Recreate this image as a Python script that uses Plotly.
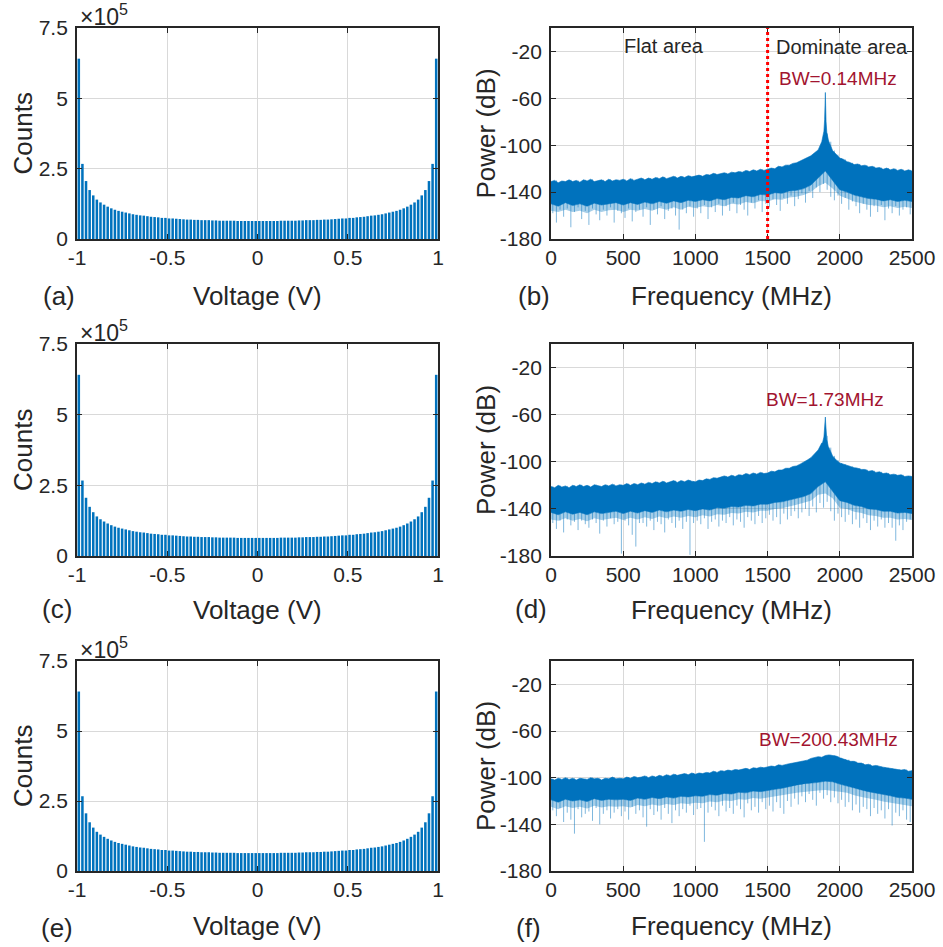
import numpy as np
import plotly.graph_objects as go

# ---------------- histogram data (counts, in thousands) ----------------
bin_centers = np.round(np.arange(-0.99, 1.0, 0.02), 2)
counts_k = [
    641, 267, 206, 174, 155, 140, 130, 122, 115, 109,
    104, 100, 97, 94, 91, 88, 86, 84, 83, 81,
    79, 78, 77, 75, 75, 73, 73, 72, 71, 70,
    69, 69, 68, 68, 67, 67, 67, 66, 66, 65,
    65, 65, 65, 65, 64, 64, 64, 64, 64, 64,
    64, 64, 64, 64, 64, 64, 65, 65, 65, 65,
    65, 66, 66, 67, 67, 67, 68, 68, 69, 69,
    70, 71, 72, 73, 73, 75, 75, 77, 78, 79,
    81, 83, 84, 86, 88, 91, 94, 97, 100, 104,
    109, 115, 122, 130, 140, 155, 174, 206, 267, 641,
]
hist_counts = np.array(counts_k) * 1000

# ---------------- spectra: band edges (dB) ----------------
freq_top = np.arange(0, 2501, 25)      # upper edge of the noise band
freq_bot = np.arange(0, 2501, 50)      # lower edges of the dense band / fringe
spike_f = np.arange(12.5, 2500, 25)    # downward noise spikes

b_top = [
    -131, -130, -132, -130.5, -131, -129.5, -131, -130, -131.5, -129.5,
    -130.5, -129, -131, -130, -129.5, -131, -129, -130.5, -129.5, -130,
    -129, -130.5, -128.5, -130, -129, -128, -129.5, -128, -129, -127.5,
    -128.5, -127, -128.5, -127.5, -126.5, -128, -126.5, -127.5, -126, -127,
    -126.5, -125.5, -126.5, -125, -125.5, -124, -125, -124.5, -123.5, -124.5,
    -123, -123.5, -122.5, -123, -121.5, -122.5, -121, -122, -120.5, -121.5,
    -120.5, -119.5, -120, -118, -118.5, -117, -117, -115.5, -115, -113.5,
    -112.5, -111, -109, -106.5, -104, -97, -90, -97, -104.5, -108,
    -111, -112, -114, -115, -116.5, -116, -117.5, -117, -118.5, -118,
    -119.5, -119, -120.5, -119.5, -121, -120, -121.5, -120.5, -122, -121,
    -122,
]
b_bot = [
    -150, -152, -149, -151.5, -150, -152, -149.5, -151, -150, -149,
    -151, -149, -150.5, -148.5, -150, -148, -149.5, -147.5, -149, -147,
    -148, -146.5, -147.5, -145.5, -146.5, -144.5, -145, -143, -144, -142,
    -142.5, -140.5, -141, -139, -138.5, -137, -134, -128, -122, -130,
    -138, -140, -142.5, -144, -145.5, -146, -147.5, -146.5, -148, -147,
    -148,
]
b_fringe = [
    -156, -157, -155, -157, -156, -158, -155, -157, -155.5, -155,
    -157, -155, -156, -154.5, -156, -153.5, -155, -153, -155, -152.5,
    -153.5, -152, -153, -151, -152, -150, -150.5, -148.5, -149.5, -147.5,
    -148, -146, -146.5, -144.5, -144, -142.5, -140, -135, -132, -137,
    -143, -145.5, -148, -149.5, -151, -151.5, -153, -152, -153.5, -152.5,
    -153.5,
]
b_spike = [
    -158, -166, -155, -161, -154, -170, -157, -153, -163, -156,
    -168, -154, -159, -164, -155, -160, -153, -166, -156, -158,
    -162, -154, -165, -157, -155, -161, -153, -168, -155, -159,
    -152, -163, -156, -154, -160, -172, -155, -158, -152, -161,
    -154, -158, -151, -163, -153, -157, -150, -160, -152, -156,
    -149, -158, -151, -155, -160, -149, -154, -147, -157, -150,
    -153, -146, -151, -156, -145, -150, -143, -152, -146, -141,
    -149, -139, -145, -136, -140, -133, -138, -144, -147, -143,
    -150, -145, -155, -148, -152, -158, -150, -155, -161, -152,
    -157, -151, -164, -154, -158, -152, -160, -155, -153, -159,
]
b_peak_f = [1880, 1890, 1895, 1898, 1900, 1902, 1905, 1910, 1920]
b_peak = [-94, -88, -78, -65, -55, -66, -80, -89, -95]

d_top = [
    -121, -122, -120, -121.5, -120.5, -122, -120, -121, -119.5, -121,
    -120, -121.5, -119.5, -120.5, -121, -119.5, -120.5, -119, -120.5, -119.5,
    -120, -118.5, -120, -118.5, -119.5, -118, -119, -117.5, -118.5, -117,
    -118, -116.5, -118, -117, -116, -117.5, -116, -117, -115.5, -116.5,
    -117, -115.5, -116, -114.5, -115, -113.5, -114, -113, -112, -113,
    -111.5, -112.5, -111, -111.5, -110, -111, -109.5, -110.5, -109, -110,
    -109.5, -108, -108.5, -107, -107, -105.5, -105.5, -104, -103.5, -102,
    -100.5, -98.5, -96.5, -93.5, -90, -84, -78, -88, -95, -98.5,
    -101, -102, -103.5, -104, -105, -105.5, -106.5, -106.5, -108, -107.5,
    -109, -108.5, -110, -109.5, -111, -110.5, -111.5, -111, -112.5, -112,
    -112.5,
]
d_bot = [
    -143, -145, -142.5, -144.5, -143, -145, -142.5, -144, -143, -142,
    -144, -142, -143.5, -141.5, -143, -141, -142.5, -141, -142, -140.5,
    -141.5, -140, -141, -139, -139.5, -138, -138.5, -137, -137.5, -136,
    -136, -134.5, -134, -132.5, -131, -129.5, -127, -121, -117, -125,
    -133, -134.5, -137, -138, -140, -140.5, -142, -142, -143.5, -143,
    -144,
]
d_fringe = [
    -149, -150, -148, -150, -148.5, -150.5, -148, -149.5, -148.5, -147.5,
    -149.5, -147.5, -149, -147, -148.5, -146.5, -148, -146.5, -147.5, -146,
    -147, -145.5, -146.5, -144.5, -145, -143.5, -144, -142.5, -143, -141.5,
    -141.5, -140, -139.5, -138, -136.5, -135, -133, -128, -127, -131,
    -139, -140, -142.5, -143.5, -145.5, -146, -147.5, -147.5, -149, -148.5,
    -149.5,
]
d_spike = [
    -152, -157, -150, -160, -149, -154, -151, -158, -150, -153,
    -156, -149, -152, -161, -150, -155, -148, -153, -151, -178,
    -150, -154, -162, -172, -152, -152, -155, -150, -158, -151,
    -153, -160, -149, -152, -156, -150, -157, -151, -179, -152,
    -150, -153, -148, -157, -151, -149, -155, -150, -152, -147,
    -154, -149, -151, -156, -147, -150, -153, -146, -152, -148,
    -145, -150, -147, -153, -144, -149, -146, -142, -148, -143,
    -140, -146, -138, -143, -135, -139, -134, -142, -150, -144,
    -147, -151, -145, -153, -149, -156, -148, -152, -158, -150,
    -155, -149, -156, -152, -156, -167, -154, -158, -151, -149,
]
d_peak_f = [1880, 1890, 1895, 1898, 1900, 1902, 1905, 1910, 1920]
d_peak = [-84, -79, -72, -66, -62, -67, -74, -81, -87]

f_top = [
    -101, -102, -100.5, -101.5, -100, -101.5, -100.5, -102, -100.5, -101,
    -101.5, -100, -101, -100.5, -102, -100.5, -101, -99.5, -101, -100.5,
    -101, -99.5, -100.5, -99, -100, -99.5, -98.5, -100, -98.5, -99.5,
    -98, -99, -97.5, -98.5, -97, -98, -97.5, -96.5, -97.5, -96,
    -97, -96, -96.5, -95.5, -96, -94.5, -95.5, -94, -94.5, -93.5,
    -94, -93, -93.5, -92.5, -92, -93, -91.5, -92, -91, -91.5,
    -91, -90, -90.5, -89, -89.5, -88.5, -88, -87.5, -87, -86,
    -85.5, -85, -83.5, -83, -82, -82.5, -81, -80.5, -81, -81.5,
    -83, -84, -84.5, -86, -86, -87.5, -87.5, -89, -88.5, -90,
    -89.5, -90.5, -91, -91.5, -92, -92.5, -93, -93.5, -93, -94.5,
    -94,
]
f_bot = [
    -119, -121, -118.5, -120, -119, -120.5, -118, -119.5, -118.5, -119,
    -118.5, -119.5, -117.5, -118.5, -117, -118, -116.5, -117.5, -116, -116.5,
    -115.5, -116, -114.5, -115, -113.5, -114, -112.5, -113, -111.5, -112,
    -111, -110, -109, -108, -106.5, -105.5, -104.5, -104, -103, -103.5,
    -105.5, -107, -109, -110.5, -112, -113, -114.5, -115.5, -117, -117.5,
    -118.5,
]
f_fringe = [
    -125, -127, -124.5, -126, -125, -126.5, -124, -125.5, -124.5, -125,
    -124.5, -125.5, -123.5, -124.5, -123, -124, -122.5, -123.5, -122, -122.5,
    -121.5, -122, -120.5, -121, -119.5, -120, -118.5, -119, -117.5, -118,
    -117, -116, -115, -114, -113, -112, -111.5, -111, -110.5, -111,
    -112, -113, -115, -116.5, -118, -119, -120.5, -121.5, -123, -123.5,
    -124.5,
]
f_spike = [
    -128, -133, -126, -138, -130, -136, -148, -127, -134, -131,
    -129, -137, -126, -140, -131, -128, -135, -130, -127, -133,
    -129, -136, -125, -131, -128, -134, -142, -127, -132, -129,
    -136, -126, -131, -139, -128, -133, -127, -130, -124, -132,
    -127, -126, -155, -130, -125, -128, -133, -124, -129, -126,
    -131, -124, -127, -134, -122, -128, -125, -130, -121, -127,
    -124, -129, -121, -126, -131, -120, -125, -118, -123, -116,
    -121, -114, -119, -124, -113, -118, -115, -121, -117, -122,
    -119, -125, -121, -128, -123, -130, -125, -127, -133, -126,
    -131, -128, -135, -127, -141, -130, -133, -128, -136, -138,
]

volt_ticks = [-1, -0.5, 0, 0.5, 1]
volt_labels = ["-1", "-0.5", "0", "0.5", "1"]
count_ticks = [0, 250000, 500000, 750000]
count_labels = ["0", "2.5", "5", "7.5"]
freq_ticks = [0, 500, 1000, 1500, 2000, 2500]
freq_labels = ["0", "500", "1000", "1500", "2000", "2500"]
pow_ticks = [-180, -140, -100, -60, -20]
pow_labels = ["-180", "-140", "-100", "-60", "-20"]
bw_labels = ["BW=0.14MHz", "BW=1.73MHz", "BW=200.43MHz"]

# ---------------- figure ----------------
W, H = 943, 947
BLUE = "#0072BD"
FONT = "Liberation Sans, Arial, sans-serif"
fig = go.Figure()


def px(x):
    return x / W


def py(y):
    return 1 - y / H


col_x = [(77, 438), (551, 912)]
row_y = [(28, 239), (344, 556), (661, 871)]

axis_common = dict(
    showline=True, linecolor="#262626", linewidth=1.8, mirror="ticks",
    ticks="inside", ticklen=5, tickwidth=1.2, tickcolor="#262626",
    showgrid=True, gridcolor="#d9d9d9", gridwidth=1, zeroline=False,
    automargin=False,
    tickfont=dict(family=FONT, size=21, color="#262626"),
)

layout_axes = {}
for r in range(3):
    for c in range(2):
        n = r * 2 + c + 1
        xs = "" if n == 1 else str(n)
        x0, x1 = col_x[c]
        y0, y1 = row_y[r]
        xa = dict(axis_common, domain=[px(x0), px(x1)], anchor="y" + xs,
                  ticklabelstandoff=-1)
        ya = dict(axis_common, domain=[py(y1), py(y0)], anchor="x" + xs,
                  ticklabelstandoff=3)
        if c == 0:
            xa.update(range=[-1, 1], tickvals=volt_ticks, ticktext=volt_labels)
            ya.update(range=[0, 750000], tickvals=count_ticks, ticktext=count_labels)
        else:
            xa.update(range=[0, 2500], tickvals=freq_ticks, ticktext=freq_labels)
            ya.update(range=[-180, 0], tickvals=pow_ticks, ticktext=pow_labels)
        layout_axes["xaxis" + xs] = xa
        layout_axes["yaxis" + xs] = ya

# histograms (a), (c), (e)
for n in (1, 3, 5):
    xs = "" if n == 1 else str(n)
    fig.add_trace(go.Bar(x=bin_centers, y=hist_counts, marker_color=BLUE,
                         marker_line_width=0, xaxis="x" + xs, yaxis="y" + xs,
                         hoverinfo="skip", showlegend=False))


def add_spectrum(n, top, bot, fringe, spikes, pk_f, pk_y):
    xs = str(n)
    top_f = list(freq_top)
    top_y = list(top)
    if pk_f:
        pts = [(f, y) for f, y in zip(top_f, top_y) if f < pk_f[0] or f > pk_f[-1]]
        pts = sorted(pts + list(zip(pk_f, pk_y)))
        top_f = [p[0] for p in pts]
        top_y = [p[1] for p in pts]
    # thin downward noise spikes
    sx, sy = [], []
    for k, (f, tip) in enumerate(zip(spike_f, spikes)):
        sx += [f, f, None]
        sy += [tip, top[k], None]
    fig.add_trace(go.Scatter(x=sx, y=sy, mode="lines",
                             line=dict(color="rgba(0,114,189,0.5)", width=1),
                             xaxis="x" + xs, yaxis="y" + xs,
                             hoverinfo="skip", showlegend=False))
    # lighter fringe under the dense band
    fx = list(freq_bot) + list(freq_bot[::-1])
    fy = list(bot) + list(fringe[::-1])
    fig.add_trace(go.Scatter(x=fx, y=fy, mode="lines", fill="toself",
                             fillcolor="rgba(0,114,189,0.35)",
                             line=dict(width=0), xaxis="x" + xs, yaxis="y" + xs,
                             hoverinfo="skip", showlegend=False))
    # dense noise band
    poly_x = top_f + list(freq_bot[::-1])
    poly_y = top_y + list(bot[::-1])
    fig.add_trace(go.Scatter(x=poly_x, y=poly_y, mode="lines", fill="toself",
                             fillcolor=BLUE, line=dict(color=BLUE, width=0.6),
                             xaxis="x" + xs, yaxis="y" + xs,
                             hoverinfo="skip", showlegend=False))


add_spectrum(2, b_top, b_bot, b_fringe, b_spike, b_peak_f, b_peak)
add_spectrum(4, d_top, d_bot, d_fringe, d_spike, d_peak_f, d_peak)
add_spectrum(6, f_top, f_bot, f_fringe, f_spike, None, None)

# boundary between flat and dominated regions
fig.add_shape(type="line", x0=1500, x1=1500, y0=-180, y1=0, xref="x2", yref="y2",
              line=dict(color="#FF0000", width=3, dash="dot"))

ann = []


def text(x, y, s, size, color="#262626", angle=0, xanchor="center"):
    ann.append(dict(x=px(x), y=py(y), xref="paper", yref="paper", text=s,
                    showarrow=False, xanchor=xanchor, yanchor="middle",
                    textangle=angle, font=dict(family=FONT, size=size, color=color)))


title_y = [296, 610, 926]
label_y = [296, 609, 928]
for r in range(3):
    cy = (row_y[r][0] + row_y[r][1]) / 2
    text(257.5, title_y[r], "Voltage (V)", 26)
    text(731.5, title_y[r], "Frequency (MHz)", 26)
    text(23, cy, "Counts", 26, angle=-90)
    text(486, cy, "Power (dB)", 26, angle=-90)
    text(78, row_y[r][0] - 13, "×10<sup>5</sup>", 23, xanchor="left")

for s, x, r in [("(a)", 59, 0), ("(b)", 534, 0), ("(c)", 57, 1),
                ("(d)", 531, 1), ("(e)", 57, 2), ("(f)", 528, 2)]:
    text(x, label_y[r], s, 26)

text(664, 46, "Flat area", 20)
text(842, 47, "Dominate area", 20)
text(838, 78, bw_labels[0], 19, color="#A2142F")
text(825, 399, bw_labels[1], 19, color="#A2142F")
text(828, 739, bw_labels[2], 19, color="#A2142F")

fig.update_layout(
    width=W, height=H, margin=dict(l=0, r=0, t=0, b=0),
    paper_bgcolor="white", plot_bgcolor="white", bargap=0.3,
    showlegend=False, annotations=ann, **layout_axes,
)

fig.write_html("out.html")
